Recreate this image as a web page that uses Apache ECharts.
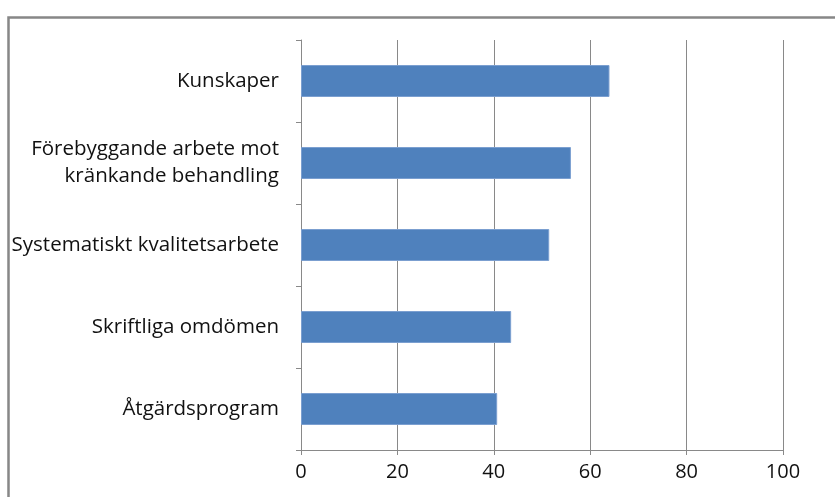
<!DOCTYPE html>
<html><head><meta charset="utf-8">
<script src="https://cdn.jsdelivr.net/npm/echarts@6/dist/echarts.min.js"></script>
<style>html,body{margin:0;padding:0;background:#fff}#c{width:835px;height:497px}</style>
</head><body><div id="c"></div>
<script>
const categories = ["Kunskaper", "Förebyggande arbete mot\nkränkande behandling", "Systematiskt kvalitetsarbete", "Skriftliga omdömen", "Åtgärdsprogram"];
const values = [64, 56, 51.5, 43.6, 40.7];
const xTicks = { min: 0, max: 100, interval: 20 };

const FONT = '"Open Sans", sans-serif';
const chart = echarts.init(document.getElementById('c'), null, { renderer: 'canvas' });
chart.setOption({
  animation: false,
  backgroundColor: '#fff',
  graphic: [{
    type: 'rect', left: 6, top: 15, shape: { width: 900, height: 600 },
    style: { fill: 'none', stroke: '#878787', lineWidth: 2.5 }, silent: true, z: -1
  }],
  grid: { left: 301, top: 40, width: 482, height: 410, containLabel: false },
  xAxis: {
    type: 'value', min: xTicks.min, max: xTicks.max, interval: xTicks.interval,
    axisLine: { show: true, lineStyle: { color: '#898989', width: 1 } },
    axisTick: { show: true, length: 5, lineStyle: { color: '#898989' } },
    splitLine: { show: true, lineStyle: { color: '#898989', width: 1 } },
    axisLabel: { color: '#111', fontSize: 20, fontFamily: FONT, margin: 12 }
  },
  yAxis: {
    type: 'category', data: categories.slice().reverse(),
    axisLine: { show: true, lineStyle: { color: '#898989', width: 1 } },
    axisTick: { show: true, length: 5, lineStyle: { color: '#898989' } },
    axisLabel: { color: '#111', fontSize: 20.5, fontFamily: FONT, margin: 22, lineHeight: 27, align: 'right' }
  },
  series: [{
    type: 'bar', data: values.slice().reverse(), barWidth: 32,
    itemStyle: { color: '#4F81BD', borderColor: '#7b9fd0', borderWidth: 1 }
  }]
});
</script></body></html>
